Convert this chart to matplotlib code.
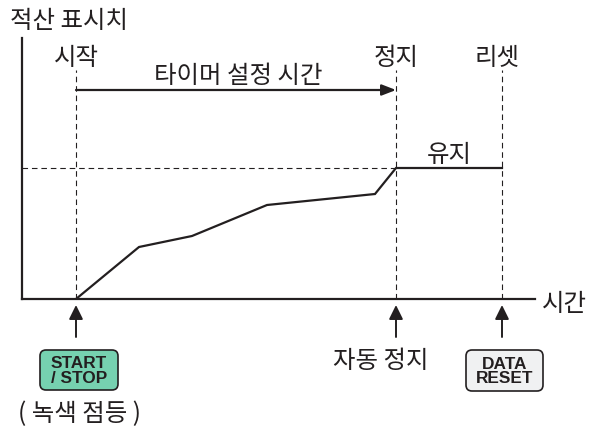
import matplotlib
matplotlib.use("Agg")
import matplotlib.pyplot as plt
from matplotlib.patches import FancyBboxPatch

plt.rcParams['font.family'] = ['Noto Sans CJK KR', 'DejaVu Sans']

INK = "#231f20"

# accumulated value over time
time = [54, 117, 170, 245, 353, 374, 480]
value = [0, 52, 63, 94, 105, 131, 131]

t_start, t_stop, t_reset = 54, 374, 480
hold_value = 131
marker_times = [t_start, t_stop, t_reset]

fig = plt.figure(figsize=(5.91, 4.27), dpi=100)
ax = fig.add_axes([22 / 591, 127 / 427, 513 / 591, 261 / 427])
ax.set_xlim(0, 513)
ax.set_ylim(0, 261)
ax.set_xticks([])
ax.set_yticks([])
ax.spines['top'].set_visible(False)
ax.spines['right'].set_visible(False)
for s in ['left', 'bottom']:
    ax.spines[s].set_linewidth(1.6)
    ax.spines[s].set_color(INK)

# dashed guides
for t in marker_times:
    ax.plot([t, t], [0, 229], color=INK, lw=0.8, dashes=(5, 3.5), clip_on=False)
ax.plot([0, t_stop], [hold_value, hold_value], color=INK, lw=0.8, dashes=(5, 3.5))

ax.plot(time, value, color=INK, lw=1.6, solid_joinstyle='miter')

# timer span arrow
ax.annotate("", xy=(t_stop, 209), xytext=(t_start, 209),
            arrowprops=dict(arrowstyle='-|>,head_length=0.85,head_width=0.33', color=INK,
                            lw=1.6, shrinkA=0, shrinkB=0))

# arrows under the axis
for t in marker_times:
    ax.annotate("", xy=(t, -6), xytext=(t, -38), annotation_clip=False,
                arrowprops=dict(arrowstyle='-|>,head_length=0.85,head_width=0.42', color=INK,
                                lw=1.4, shrinkA=0, shrinkB=0))

def label(x, y, s, ha='center'):
    ax.text(x, y, s, ha=ha, va='center', fontsize=17.6, color=INK, clip_on=False)

label(-12, 279, "적산 표시치", ha='left')
label(t_start, 242, "시작")
label(216, 224, "타이머 설정 시간")
label(t_stop, 242, "정지")
label(475, 242, "리셋")
label(427, 145, "유지")
label(520, -4, "시간", ha='left')
label(359, -61, "자동 정지")
label(57, -114, "( 녹색 점등 )")

# panel buttons
def button(x0, x1, y0, y1, face, s):
    ax.add_patch(FancyBboxPatch((x0 + 5, y0 + 5), x1 - x0 - 10, y1 - y0 - 10,
                                boxstyle="round,pad=5,rounding_size=6", facecolor=face,
                                edgecolor=INK, lw=1.2, clip_on=False))
    ax.text((x0 + x1) / 2, (y0 + y1) / 2, s, ha='center', va='center', fontsize=12.4,
            fontweight='bold', family='Liberation Sans', color=INK, linespacing=0.95,
            clip_on=False)

button(18, 96, -91, -51, "#76d1b0", "START\n/ STOP")
button(444, 521, -92, -51, "#f0f1f2", "DATA\nRESET")

fig.savefig("out.png", dpi=100)
